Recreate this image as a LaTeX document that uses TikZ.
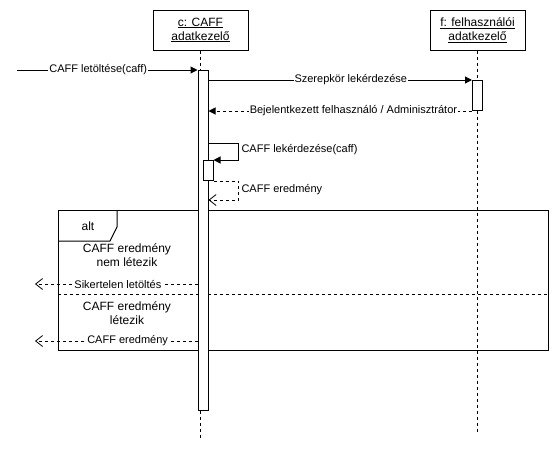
\documentclass[tikz,border=0pt]{standalone}
\usepackage{fontspec}
\setmainfont{Liberation Sans}
\usetikzlibrary{arrows.meta,positioning,calc}
\tikzset{
  head/.style={rectangle, draw=black, minimum width=95, minimum height=40, align=center, font=\fontsize{12}{14}\selectfont},
  activ/.style={rectangle, draw=black, fill=white, minimum width=10, inner sep=0pt},
  lifeline/.style={dash pattern=on 3pt off 3pt},
  call/.style={-{Triangle[length=7pt,width=7pt]}},
  reply/.style={dash pattern=on 3pt off 3pt, -{Triangle[length=7pt,width=7pt]}},
  back/.style={dash pattern=on 3pt off 3pt, -{Straight Barb[length=7pt,width=11pt,line width=0.8pt]}},
  lbl/.style={fill=white, inner sep=1pt, font=\fontsize{11}{13}\selectfont},
  guard/.style={align=center, font=\fontsize{12}{14}\selectfont}
}

\begin{document}
\begin{tikzpicture}[x=1pt, y=-1pt, line width=1pt]
  \useasboundingbox (0,0) rectangle (558,451);
  \node[head] (C) at (200.5,30) {\underline{c: CAFF}\\\underline{adatkezelő}};
  \node[head] (F) at (477.5,30) {\underline{f: felhasználói}\\\underline{adatkezelő}};
  \coordinate (Cend) at (200.5,438);
  \coordinate (Fend) at (477.5,432);
  \draw[lifeline] (C) -- (Cend);
  \draw[lifeline] (F) -- (Fend);

  % alt frame
  \node[draw, minimum width=490, minimum height=140, anchor=north west, inner sep=0pt] (alt) at (58,210) {};
  \draw (alt.north west) ++(0,31) -- ++(52,0) -- ++(7,-14) -- ++(0,-17);
  \node[guard] (altlbl) at (88,226) {alt};
  \draw[lifeline] ($(alt.north west)+(0,84)$) -- ($(alt.north east)+(0,84)$);
  \node[guard] (g1) at (127,255) {CAFF eredmény\\nem létezik};
  \node[guard] (g2) at (127,313) {CAFF eredmény\\létezik};

  % activations
  \node[activ, minimum height=340, anchor=north] (Ac) at (203,70) {};
  \node[activ, minimum height=30, anchor=north] (Af) at (477.5,80) {};
  \node[activ, minimum height=20, anchor=north] (As) at (208,160) {};

  % messages
  \coordinate (in) at (17,70);
  \draw[call] (in) -- node[lbl, pos=0.45] {CAFF letöltése(caff)} (Ac.north west);
  \draw[call] (Ac.east |- Af.north) -- node[lbl, pos=0.54] {Szerepkör lekérdezése} (Af.north west);
  \draw[reply] (Af.south west) -- node[lbl, pos=0.45] {Bejelentkezett felhasználó / Adminisztrátor} (Ac.east |- Af.south);
  \draw[call] ($(Ac.north east)+(0,73)$) -- ++(30,0) |- (As.north east);
  \node[lbl, anchor=west, fill=none] (self1) at (240,150) {CAFF lekérdezése(caff)};
  \draw[back] (As.south east) -- ++(25,0) |- ($(Ac.north east)+(0,130)$);
  \node[lbl, anchor=west, fill=none] (self2) at (240,190) {CAFF eredmény};

  \coordinate (out1) at (35,284);
  \coordinate (out2) at (35,341);
  \draw[back] ($(Ac.north west)+(0,214)$) -- node[lbl, pos=0.49] {Sikertelen letöltés} (out1);
  \draw[back] ($(Ac.north west)+(0,271)$) -- node[lbl, pos=0.43] {CAFF eredmény} (out2);
\end{tikzpicture}
\end{document}
